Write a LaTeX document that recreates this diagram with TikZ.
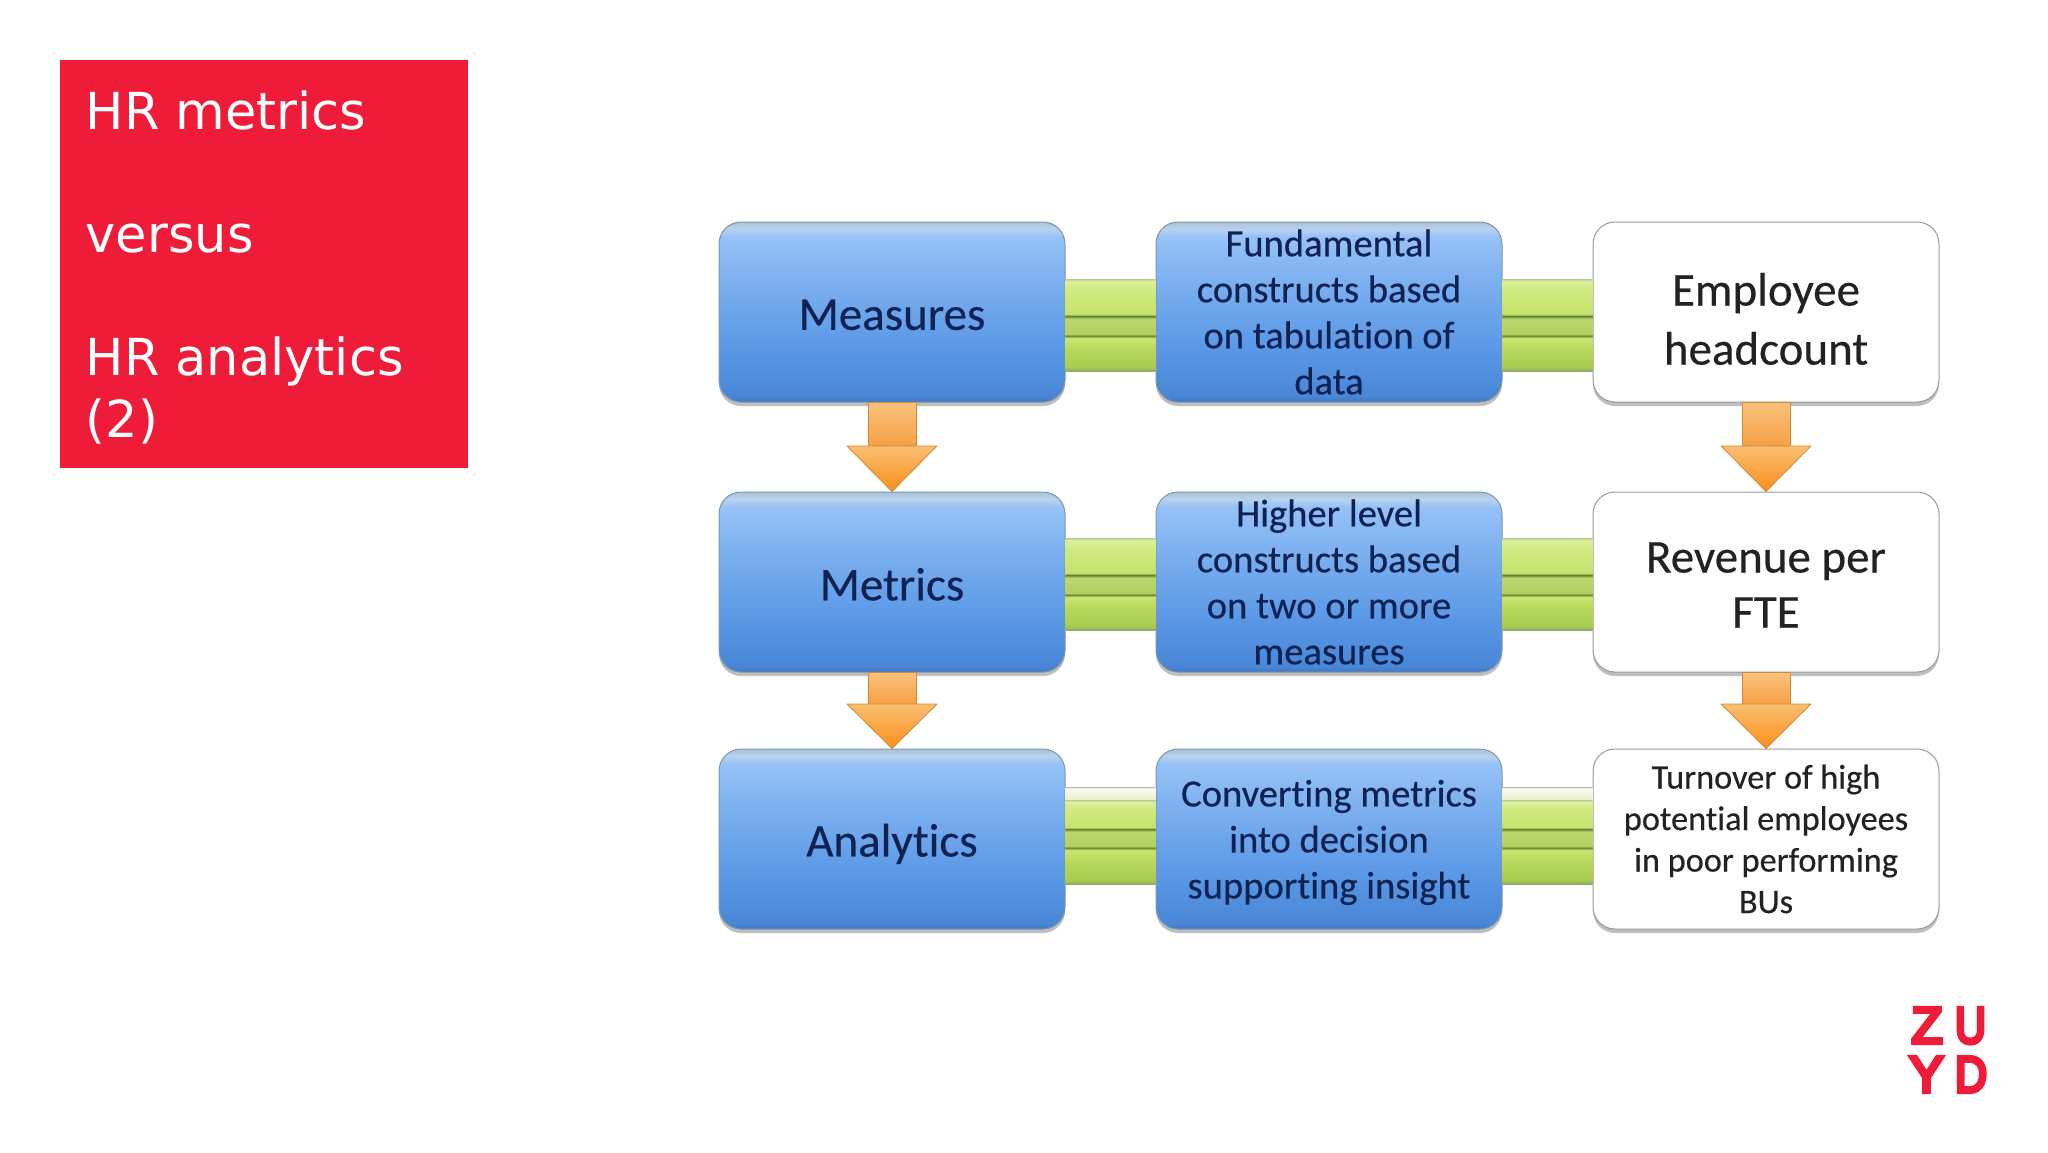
\documentclass[tikz,border=0pt]{standalone}
\usepackage{fontspec}
\setmainfont{Carlito}[Ligatures=NoCommon,FakeBold=0.4]
\newfontfamily\titlefont{DejaVu Sans}
\newfontfamily\logofont{Liberation Sans}[FakeBold=8]
\usetikzlibrary{calc,shadows}
\definecolor{zuydred}{HTML}{EE1C38}
\definecolor{navy}{HTML}{0E2353}
\definecolor{ink}{HTML}{222222}
\definecolor{cardedge}{HTML}{7F96AB}
\definecolor{whiteedge}{HTML}{9A9A9A}
\definecolor{bA}{HTML}{3F77C4}
\definecolor{bB}{HTML}{4A86D6}
\definecolor{bC}{HTML}{5A98E6}
\definecolor{bD}{HTML}{7FB2F0}
\definecolor{bE}{HTML}{97C2F7}
\definecolor{bF}{HTML}{B9D3EE}
\definecolor{bG}{HTML}{A9C2D8}
\definecolor{gA}{HTML}{7F9E42}
\definecolor{gB}{HTML}{C6E26E}
\definecolor{gC}{HTML}{CFEB80}
\definecolor{gD}{HTML}{DCF09E}
\definecolor{gE}{HTML}{B9C88F}
\definecolor{gF}{HTML}{B2D060}
\definecolor{gG}{HTML}{BAD96C}
\definecolor{gH}{HTML}{5F7F32}
\definecolor{gI}{HTML}{8FA96A}
\definecolor{gJ}{HTML}{A6CB50}
\definecolor{gK}{HTML}{B8DC60}
\definecolor{gL}{HTML}{CBE770}
\definecolor{gM}{HTML}{6E8E3A}
\definecolor{pA}{HTML}{E6EFC8}
\definecolor{pB}{HTML}{FBFDF3}
\definecolor{pC}{HTML}{B9BDA8}
\definecolor{oEdge}{HTML}{D08A3A}
\definecolor{oA}{HTML}{F9C27C}
\definecolor{oB}{HTML}{F7A043}
\definecolor{oC}{HTML}{F9BF70}
\definecolor{oD}{HTML}{FA8F1C}
\pgfdeclareverticalshading{blueboxshade}{100bp}{
 color(0bp)=(bA);
 color(25bp)=(bA);
 color(26.5bp)=(bB);
 color(40bp)=(bC);
 color(60bp)=(bD);
 color(71bp)=(bE);
 color(73bp)=(bF);
 color(75bp)=(bG);
 color(100bp)=(bG)}
\pgfdeclareverticalshading{lightgreen}{100bp}{
 color(0bp)=(gA);color(25bp)=(gA);color(28bp)=(gB);color(60bp)=(gC);color(72bp)=(gD);color(75bp)=(gE);color(100bp)=(gE)}
\pgfdeclareverticalshading{midgreen}{100bp}{
 color(0bp)=(gH);color(25bp)=(gH);color(30bp)=(gF);color(68bp)=(gG);color(75bp)=(gH);color(100bp)=(gH)}
\pgfdeclareverticalshading{darkgreen}{100bp}{
 color(0bp)=(gI);color(25bp)=(gI);color(30bp)=(gJ);color(60bp)=(gK);color(72bp)=(gL);color(75bp)=(gM);color(100bp)=(gM)}
\pgfdeclareverticalshading{paleband}{100bp}{
 color(0bp)=(pA);color(25bp)=(pA);color(70bp)=(pB);color(75bp)=(pC);color(100bp)=(pC)}
\tikzset{
 x=1pt,y=-1pt,
 card/.style={minimum width=346pt,minimum height=180pt,inner sep=0pt,rounded corners=22pt,align=center,
   drop shadow={shadow xshift=0pt,shadow yshift=-4pt,opacity=.5,fill=black!50}},
 bluecard/.style={card,shading=blueboxshade,draw=cardedge,line width=1pt,text=navy},
 whitecard/.style={card,fill=white,draw=whiteedge,line width=1pt,text=ink},
 bigtext/.style={font=\fontsize{47}{59}\selectfont},
 revtext/.style={font=\fontsize{47}{55}\selectfont},
 smalltext/.style={font=\fontsize{38.6}{46}\selectfont},
 tinytext/.style={font=\fontsize{34.3}{41.5}\selectfont},
 orangearrow/.style={draw=oEdge,line width=.8pt,top color=oA,bottom color=oB},
 orangehead/.style={draw=oEdge,line width=.8pt,top color=oC,bottom color=oD,line join=round},
 logotext/.style={font=\logofont\fontsize{51}{51}\selectfont,text=zuydred,inner sep=0pt,anchor=base},
}
% strut on a card's first line: sets where its text sits
\newcommand{\nudge}[1]{\rule{0pt}{#1pt}}
% #1 left node, #2 right node, #3,#4,#5,#6 band boundaries
\newcommand{\greenlink}[6]{%
 \shade[shading=lightgreen] (#1.east |- 0,#3) rectangle (#2.west |- 0,#4);
 \shade[shading=midgreen] (#1.east |- 0,#4) rectangle (#2.west |- 0,#5);
 \shade[shading=darkgreen] (#1.east |- 0,#5) rectangle (#2.west |- 0,#6);
}
% #1 from node, #2 to node, #3 y of head start
\newcommand{\orangedown}[3]{%
 \path ($(#1.south)+(-24,0)$) coordinate (sl) ($(#1.south)+(24,0)$) coordinate (sr)
       ($(#1.south)+(-45,0)$) coordinate (hl) ($(#1.south)+(45,0)$) coordinate (hr);
 \path[orangearrow] (sl) -- (sr) -- (sr |- 0,#3) -- (sl |- 0,#3) -- cycle;
 \path[orangehead] (hl |- 0,#3) -- (sl |- 0,#3) -- (sr |- 0,#3) -- (hr |- 0,#3) -- (#2.north) -- cycle;
}
\begin{document}
\begin{tikzpicture}
\useasboundingbox (0,0) rectangle (2048,1152);
\fill[white] (0,0) rectangle (2048,1152);
% title
\node[fill=zuydred,minimum width=408pt,minimum height=408pt,inner sep=0pt] (titlebox) at (264,264) {};
\node[anchor=north west,inner sep=0pt,text=white,align=left,font=\titlefont\fontsize{51}{61.5}\selectfont] (titletext) at (85.5,91)
 {HR metrics\\\mbox{}\\versus\\\mbox{}\\HR analytics\\(2)};
% nodes
\node[bluecard,bigtext] (measures) at (892,312) {\nudge{36}Measures};
\node[bluecard,bigtext] (metrics) at (892,582) {\nudge{37}Metrics};
\node[bluecard,bigtext] (analytics) at (892,839) {\nudge{42.5}Analytics};
\node[bluecard,smalltext] (fund) at (1329,312) {Fundamental\\constructs based\\on tabulation of\\data};
\node[bluecard,smalltext] (higher) at (1329,582) {Higher level\\constructs based\\on two or more\\measures};
\node[bluecard,smalltext] (conv) at (1329,839) {\nudge{33.5}Converting metrics\\into decision\\supporting insight};
\node[whitecard,bigtext] (head) at (1766,312) {\nudge{46.5}Employee\\headcount};
\node[whitecard,revtext] (rev) at (1766,582) {\nudge{36}Revenue per\\FTE};
\node[whitecard,tinytext] (turn) at (1766,839) {Turnover of high\\potential employees\\in poor performing\\BUs};
% green links
\greenlink{measures}{fund}{279}{316}{336}{371}
\greenlink{fund}{head}{279}{316}{336}{371}
\greenlink{metrics}{higher}{538}{575}{595}{630}
\greenlink{higher}{rev}{538}{575}{595}{630}
\shade[shading=paleband] (analytics.east |- 0,787) rectangle (conv.west |- 0,800);
\shade[shading=paleband] (conv.east |- 0,787) rectangle (turn.west |- 0,800);
\greenlink{analytics}{conv}{800}{829}{848}{884}
\greenlink{conv}{turn}{800}{829}{848}{884}
% arrows
\orangedown{measures}{metrics}{446}
\orangedown{head}{rev}{446}
\orangedown{metrics}{analytics}{704}
\orangedown{rev}{turn}{704}
% logo
\node[logotext] (logoz) at (1927,1043) {Z};
\node[logotext] (logou) at (1970.5,1043) {\scalebox{.84}[1]{U}};
\node[logotext] (logoy) at (1926.5,1092) {Y};
\node[logotext] (logod) at (1971,1092) {\scalebox{.87}[1]{D}};
\end{tikzpicture}
\end{document}
